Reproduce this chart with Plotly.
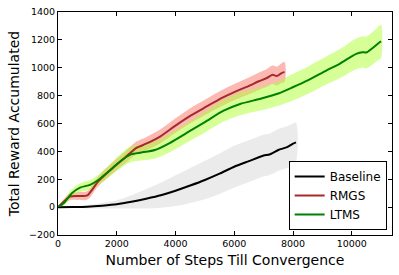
import plotly.graph_objects as go

# ---- data ----
base_x = [0, 500, 1000, 1500, 2000, 2500, 3000, 3500, 4000, 4500, 5000, 5500, 6000, 6500, 7000, 7200, 7500, 7800, 8000, 8100]
base_y = [0, 1, 3, 10, 20, 38, 60, 85, 118, 155, 195, 240, 290, 330, 370, 378, 410, 430, 455, 465]
base_sd = [0, 5, 12, 20, 30, 48, 70, 90, 110, 125, 138, 145, 150, 150, 150, 148, 150, 150, 145, 140]

rmgs_x = [0, 200, 400, 700, 1000, 1370, 1880, 2280, 2670, 3000, 3500, 4000, 4500, 5000, 5600, 6000, 6500, 6860, 7100, 7300, 7450, 7600, 7710]
rmgs_y = [0, 40, 75, 80, 85, 185, 285, 355, 425, 455, 510, 585, 655, 715, 785, 825, 870, 905, 925, 950, 940, 960, 970]
rmgs_sd = [0, 18, 25, 28, 30, 35, 40, 42, 45, 47, 50, 52, 54, 55, 57, 58, 60, 62, 64, 66, 68, 70, 72]

ltms_x = [0, 200, 470, 750, 1090, 1370, 1880, 2220, 2500, 2840, 3300, 3800, 4480, 5000, 5620, 6200, 6860, 7500, 7990, 8500, 9130, 9600, 10150, 10370, 10500, 10960, 11000]
ltms_y = [0, 30, 100, 140, 160, 195, 285, 345, 380, 392, 410, 460, 545, 610, 690, 740, 776, 815, 860, 910, 980, 1030, 1100, 1112, 1110, 1185, 1190]
ltms_sd = [0, 18, 28, 32, 35, 38, 45, 52, 56, 58, 62, 66, 70, 74, 78, 80, 84, 88, 95, 98, 100, 104, 110, 112, 114, 120, 120]

x_ticks = [0, 2000, 4000, 6000, 8000, 10000]
x_tick_text = ["0", "2000", "4000", "6000", "8000", "10000"]
y_ticks = [-200, 0, 200, 400, 600, 800, 1000, 1200, 1400]
y_tick_text = ["\u2212200", "0", "200", "400", "600", "800", "1000", "1200", "1400"]

series = [
    ("Baseline", base_x, base_y, base_sd, "#000000", "rgba(211,211,211,0.45)"),
    ("RMGS", rmgs_x, rmgs_y, rmgs_sd, "#A52A2A", "rgba(250,128,114,0.55)"),
    ("LTMS", ltms_x, ltms_y, ltms_sd, "#008000", "rgba(173,255,47,0.5)"),
]

fig = go.Figure()
for name, xs, ys, sd, lc, fc in series:
    up = [y + s for y, s in zip(ys, sd)]
    lo = [y - s for y, s in zip(ys, sd)]
    fig.add_trace(go.Scatter(
        x=list(xs) + list(xs)[::-1], y=up + lo[::-1],
        fill="toself", fillcolor=fc, line=dict(width=0), mode="lines",
        hoverinfo="skip", showlegend=False, line_shape="spline"))
for name, xs, ys, sd, lc, fc in series:
    fig.add_trace(go.Scatter(
        x=xs, y=ys, name=name, mode="lines",
        line=dict(color=lc, width=2, shape="spline", smoothing=0.6)))

axis_common = dict(
    showline=True, linecolor="black", linewidth=1, mirror="ticks",
    ticks="inside", ticklen=4, tickcolor="black", showgrid=False, zeroline=False,
    automargin=False,
    tickfont=dict(family="DejaVu Sans", size=9.5, color="black"),
)
fig.update_xaxes(range=[0, 11370], tickvals=x_ticks, ticktext=x_tick_text,
                 title=dict(text="Number of Steps Till Convergence",
                            font=dict(family="DejaVu Sans", size=14, color="black"),
                            standoff=6),
                 **axis_common)
fig.update_yaxes(range=[-200, 1400], tickvals=y_ticks, ticktext=y_tick_text,
                 title=dict(text="Total Reward Accumulated",
                            font=dict(family="DejaVu Sans", size=14, color="black"),
                            standoff=6),
                 **axis_common)

fig.update_layout(
    width=399, height=275,
    margin=dict(l=58, r=7, t=12, b=40),
    paper_bgcolor="white", plot_bgcolor="white",
    font=dict(family="DejaVu Sans", color="black"),
    legend=dict(x=0.984, y=0.022, xanchor="right", yanchor="bottom",
                bordercolor="black", borderwidth=1, bgcolor="white",
                font=dict(family="DejaVu Sans", size=12, color="black")),
)

fig.write_html("out.html", config={"displayModeBar": False},
               post_script="document.body.style.margin='0';")
